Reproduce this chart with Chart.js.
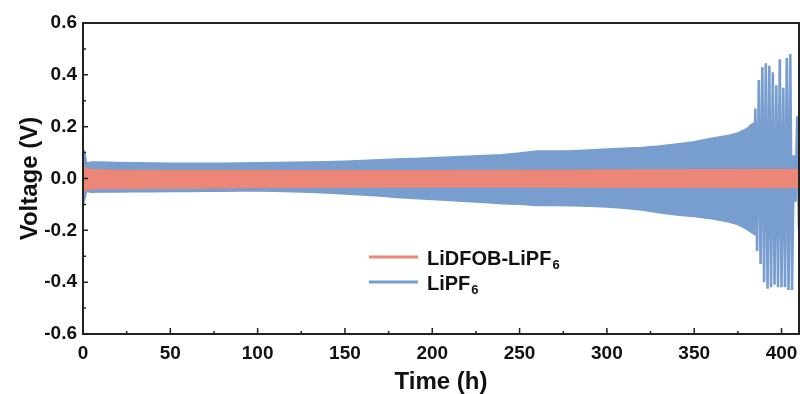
<!DOCTYPE html>
<html>
<head>
<meta charset="utf-8">
<script src="https://cdn.jsdelivr.net/npm/chart.js@4.4.0/dist/chart.umd.min.js"></script>
<style>
  html, body { margin: 0; padding: 0; background: #fff; }
</style>
</head>
<body>
<canvas id="voltChart" width="800" height="394"></canvas>
<script>
// LiPF6: envelope of the cycling (time in h, voltage in V)
const blueTime  = [0, 1, 2, 5, 10, 20, 30, 40, 50, 60, 70, 80, 90, 100, 110, 120, 130, 140, 150, 160, 170, 180, 190, 200, 210, 220, 230, 240, 250, 260, 270, 280, 290, 300, 310, 320, 330, 340, 350, 360, 370, 375, 380, 383, 386];
const blueUpper = [0.115, 0.10, 0.06, 0.064, 0.064, 0.062, 0.061, 0.060, 0.059, 0.059, 0.059, 0.059, 0.060, 0.061, 0.062, 0.063, 0.064, 0.065, 0.067, 0.069, 0.072, 0.075, 0.077, 0.080, 0.083, 0.086, 0.089, 0.092, 0.098, 0.106, 0.106, 0.107, 0.110, 0.114, 0.117, 0.120, 0.125, 0.133, 0.142, 0.155, 0.167, 0.176, 0.192, 0.21, 0.22];
const blueLower = [-0.10, -0.08, -0.05, -0.053, -0.052, -0.052, -0.051, -0.051, -0.050, -0.050, -0.049, -0.049, -0.048, -0.048, -0.049, -0.051, -0.053, -0.056, -0.060, -0.064, -0.068, -0.073, -0.077, -0.081, -0.085, -0.089, -0.093, -0.097, -0.099, -0.104, -0.104, -0.105, -0.107, -0.110, -0.115, -0.122, -0.132, -0.141, -0.147, -0.155, -0.168, -0.178, -0.195, -0.21, -0.22];

// LiPF6: last cycles, peak / trough of each half cycle
const spikeTime = [383, 384, 385, 386, 387, 388, 389, 390, 391, 392, 393, 394, 395, 396, 397, 398, 399, 400, 401, 402, 403, 404, 405, 406, 407, 408, 409, 410];
const spikeVolt = [0.21, -0.21, 0.27, -0.28, 0.38, -0.33, 0.43, -0.40, 0.445, -0.425, 0.435, -0.42, 0.41, -0.41, 0.36, -0.42, 0.46, -0.42, 0.35, -0.42, 0.465, -0.43, 0.48, -0.43, 0.09, -0.09, 0.24, -0.20];

// LiDFOB-LiPF6 envelope
const redTime  = [0, 1, 3, 10, 50, 100, 150, 200, 250, 300, 350, 400, 410];
const redUpper = [0.052, 0.045, 0.037, 0.033, 0.031, 0.031, 0.031, 0.031, 0.032, 0.033, 0.034, 0.035, 0.035];
const redLower = [-0.052, -0.047, -0.042, -0.040, -0.038, -0.036, -0.034, -0.033, -0.033, -0.034, -0.035, -0.036, -0.036];

const xTicks = [0, 50, 100, 150, 200, 250, 300, 350, 400];
const yTicks = [-0.6, -0.4, -0.2, 0.0, 0.2, 0.4, 0.6];

const BLUE = "#789dcf";
const RED = "#ec8676";
const FONT = "'Liberation Sans', Arial, sans-serif";

function pts(xs, ys) {
  return xs.map((x, i) => ({ x: x, y: ys[i] }));
}

// inward ticks + box frame
const framePlugin = {
  id: "frame",
  afterDatasetsDraw(chart) {
    const { ctx, chartArea: a, scales } = chart;
    const xs = scales.x, ys = scales.y;
    ctx.save();
    ctx.strokeStyle = "#222";
    ctx.lineWidth = 2;
    ctx.strokeRect(a.left, a.top, a.right - a.left, a.bottom - a.top);
    ctx.lineWidth = 1.5;
    ctx.beginPath();
    for (let v = 0; v <= 410; v += 25) {
      const px = xs.getPixelForValue(v);
      const len = v % 50 === 0 ? 6 : 3;
      ctx.moveTo(px, a.bottom);
      ctx.lineTo(px, a.bottom - len);
    }
    for (let k = -6; k <= 6; k++) {
      const py = ys.getPixelForValue(k / 10);
      const len = k % 2 === 0 ? 5 : 3;
      ctx.moveTo(a.left, py);
      ctx.lineTo(a.left + len, py);
    }
    ctx.stroke();
    ctx.restore();
  }
};

// legend with subscripts
const legendPlugin = {
  id: "subLegend",
  afterDraw(chart) {
    const ctx = chart.ctx;
    const items = [
      { color: RED, main: "LiDFOB-LiPF", y: 257 },
      { color: BLUE, main: "LiPF", y: 282 }
    ];
    ctx.save();
    items.forEach((it) => {
      ctx.strokeStyle = it.color;
      ctx.lineWidth = 3;
      ctx.beginPath();
      ctx.moveTo(369, it.y);
      ctx.lineTo(418, it.y);
      ctx.stroke();
      ctx.fillStyle = "#111";
      ctx.textBaseline = "middle";
      ctx.font = "bold 20px " + FONT;
      ctx.fillText(it.main, 427, it.y + 2);
      const w = ctx.measureText(it.main).width;
      ctx.font = "bold 13px " + FONT;
      ctx.fillText("6", 427 + w + 1, it.y + 8);
    });
    ctx.restore();
  }
};

new Chart(document.getElementById("voltChart"), {
  type: "line",
  data: {
    datasets: [
      {
        label: "LiDFOB-LiPF6",
        data: pts(redTime, redUpper),
        borderColor: RED,
        backgroundColor: RED,
        borderWidth: 1,
        fill: "+1"
      },
      {
        label: "LiDFOB-LiPF6 low",
        data: pts(redTime, redLower),
        borderColor: RED,
        borderWidth: 1,
        fill: false
      },
      {
        label: "LiPF6 end",
        data: pts(spikeTime, spikeVolt),
        borderColor: BLUE,
        borderWidth: 2.6,
        fill: false
      },
      {
        label: "LiPF6",
        data: pts(blueTime, blueUpper),
        borderColor: BLUE,
        backgroundColor: BLUE,
        borderWidth: 1.5,
        fill: "+1"
      },
      {
        label: "LiPF6 low",
        data: pts(blueTime, blueLower),
        borderColor: BLUE,
        borderWidth: 1.5,
        fill: false
      }
    ]
  },
  options: {
    responsive: false,
    animation: false,
    parsing: false,
    elements: { point: { radius: 0 }, line: { tension: 0 } },
    layout: { padding: { top: 23, right: 1, left: 0, bottom: 0 } },
    plugins: {
      legend: { display: false },
      tooltip: { enabled: false }
    },
    scales: {
      x: {
        type: "linear",
        min: 0,
        max: 410,
        grid: { display: false, drawTicks: false },
        border: { display: false },
        afterBuildTicks: (s) => { s.ticks = xTicks.map((v) => ({ value: v })); },
        afterFit: (s) => { s.height = 60; s.paddingLeft = 0; s.paddingRight = 0; },
        ticks: {
          padding: 8,
          color: "#111",
          font: { family: FONT, size: 19, weight: "bold" },
          callback: (v) => String(v)
        },
        title: {
          display: true,
          text: "Time (h)",
          color: "#111",
          padding: 0,
          font: { family: FONT, size: 24, weight: "bold", lineHeight: 1 }
        }
      },
      y: {
        min: -0.6,
        max: 0.6,
        grid: { display: false, drawTicks: false },
        border: { display: false },
        afterBuildTicks: (s) => { s.ticks = yTicks.map((v) => ({ value: v })); },
        afterFit: (s) => { s.width = 83; s.paddingTop = 0; s.paddingBottom = 0; },
        ticks: {
          padding: 6,
          color: "#111",
          font: { family: FONT, size: 19, weight: "bold" },
          callback: (v) => v.toFixed(1)
        },
        title: {
          display: true,
          text: "Voltage (V)",
          color: "#111",
          padding: { top: 18, bottom: 0 },
          font: { family: FONT, size: 24, weight: "bold", lineHeight: 1 }
        }
      }
    }
  },
  plugins: [framePlugin, legendPlugin]
});
</script>
</body>
</html>
